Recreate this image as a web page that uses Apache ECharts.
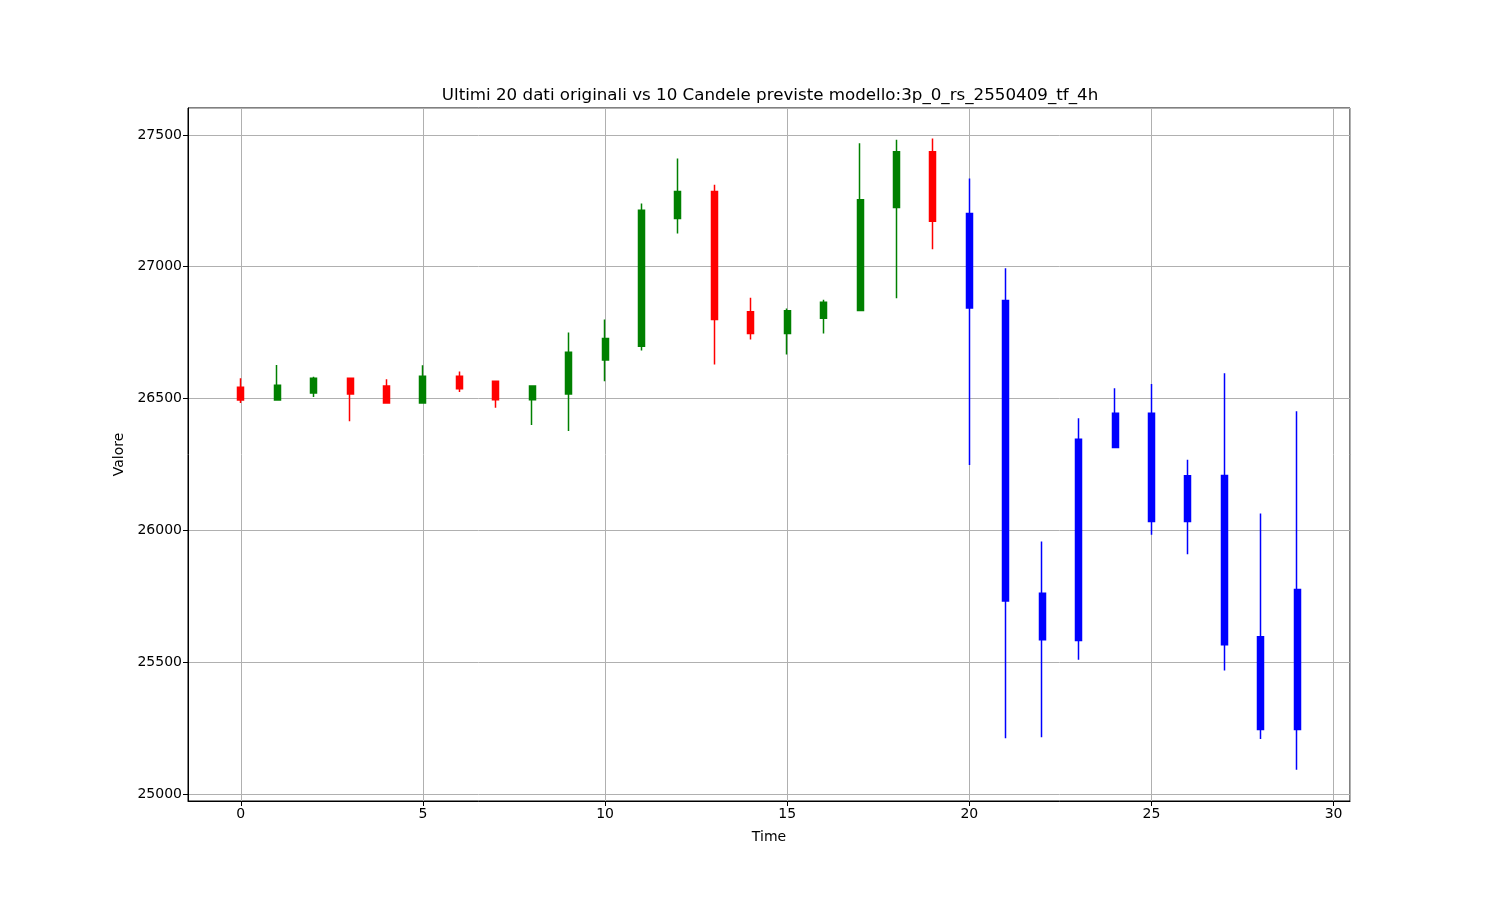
<!DOCTYPE html>
<html>
<head>
<meta charset="utf-8">
<script src="https://cdn.jsdelivr.net/npm/echarts@6/dist/echarts.min.js"></script>
<style>
html,body{margin:0;padding:0;background:#fff;}
#chart{width:1500px;height:900px;}
</style>
</head>
<body>
<div id="chart"></div>
<script>
// Original candles (index 0-19): open, close, low, high
const origTime  = [0,1,2,3,4,5,6,7,8,9,10,11,12,13,14,15,16,17,18,19];
const origOpen  = [26543,26494,26521,26577,26547,26483,26584,26565,26495,26517,26646,26698,27183,27285,26829,26747,26804,26834,27225,27436];
const origClose = [26494,26550,26577,26517,26483,26584,26537,26495,26547,26675,26728,27214,27285,26800,26747,26833,26865,27254,27436,27172];
const origLow   = [26483,26492,26506,26414,26483,26483,26525,26465,26399,26377,26565,26682,27126,26629,26724,26667,26747,26834,26880,27066];
const origHigh  = [26577,26627,26582,26577,26573,26626,26602,26565,26547,26750,26800,27240,27410,27311,26882,26841,26875,27468,27482,27486];

// Predicted candles (index 20-29)
const predTime  = [20,21,22,23,24,25,26,27,28,29];
const predOpen  = [27202,26872,25761,26345,26444,26444,26207,26208,25596,25775];
const predClose = [26843,25732,25585,25582,26314,26033,26033,25566,25244,25244];
const predLow   = [26248,25211,25215,25509,26314,25983,25909,25468,25208,25092];
const predHigh  = [27335,26994,25957,26425,26539,26555,26268,26596,26064,26452];

const titleText = 'Ultimi 20 dati originali vs 10 Candele previste modello:3p_0_rs_2550409_tf_4h';

function build(t, o, c, l, h) {
  return t.map((x, i) => [x, o[i], c[i], l[i], h[i]]);
}

const font = 'DejaVu Sans';
const chart = echarts.init(document.getElementById('chart'), null, {renderer: 'canvas'});
chart.setOption({
  animation: false,
  backgroundColor: '#fff',
  title: {
    text: titleText,
    left: 765,
    top: 82,
    textAlign: 'center',
    textStyle: {fontFamily: font, fontSize: 16.7, fontWeight: 'normal', color: '#000'}
  },
  grid: {
    left: 188, right: 150, top: 108, bottom: 99,
    show: true, borderColor: '#000', borderWidth: 1, backgroundColor: 'transparent'
  },
  xAxis: {
    type: 'value',
    min: -1.45, max: 30.45,
    name: 'Time',
    nameLocation: 'middle',
    nameGap: 29,
    nameTextStyle: {fontFamily: font, fontSize: 14, color: '#000'},
    axisLine: {show: true, onZero: false, lineStyle: {color: '#000', width: 1}},
    axisTick: {show: true, length: 5, lineStyle: {color: '#000'}},
    axisLabel: {
      fontFamily: font, fontSize: 14, color: '#000', margin: 6,
      showMinLabel: false, showMaxLabel: false,
      formatter: v => (Math.abs(v % 5) < 1e-9 ? String(v) : '')
    },
    splitLine: {show: true, lineStyle: {color: '#b0b0b0', width: 1}}
  },
  yAxis: {
    type: 'value',
    min: 24973, max: 27602,
    name: 'Valore',
    nameLocation: 'middle',
    nameGap: 62,
    nameTextStyle: {fontFamily: font, fontSize: 14, color: '#000'},
    axisLine: {show: true, onZero: false, lineStyle: {color: '#000', width: 1}},
    axisTick: {show: true, length: 5, lineStyle: {color: '#000'}},
    axisLabel: {
      fontFamily: font, fontSize: 14, color: '#000', margin: 6,
      showMinLabel: false, showMaxLabel: false,
      formatter: v => (Math.abs(v % 500) < 1e-9 ? String(v) : '')
    },
    splitLine: {show: true, lineStyle: {color: '#b0b0b0', width: 1}}
  },
  series: [
    {
      name: 'Originali',
      type: 'candlestick',
      barWidth: 6.5,
      encode: {x: 0, y: [1, 2, 3, 4]},
      itemStyle: {
        color: '#008000', color0: '#ff0000',
        borderColor: '#008000', borderColor0: '#ff0000', borderWidth: 1.5
      },
      data: build(origTime, origOpen, origClose, origLow, origHigh)
    },
    {
      name: 'Previste',
      type: 'candlestick',
      barWidth: 6.5,
      encode: {x: 0, y: [1, 2, 3, 4]},
      itemStyle: {
        color: '#0000ff', color0: '#0000ff',
        borderColor: '#0000ff', borderColor0: '#0000ff', borderWidth: 1.5
      },
      data: build(predTime, predOpen, predClose, predLow, predHigh)
    }
  ]
});
</script>
</body>
</html>
